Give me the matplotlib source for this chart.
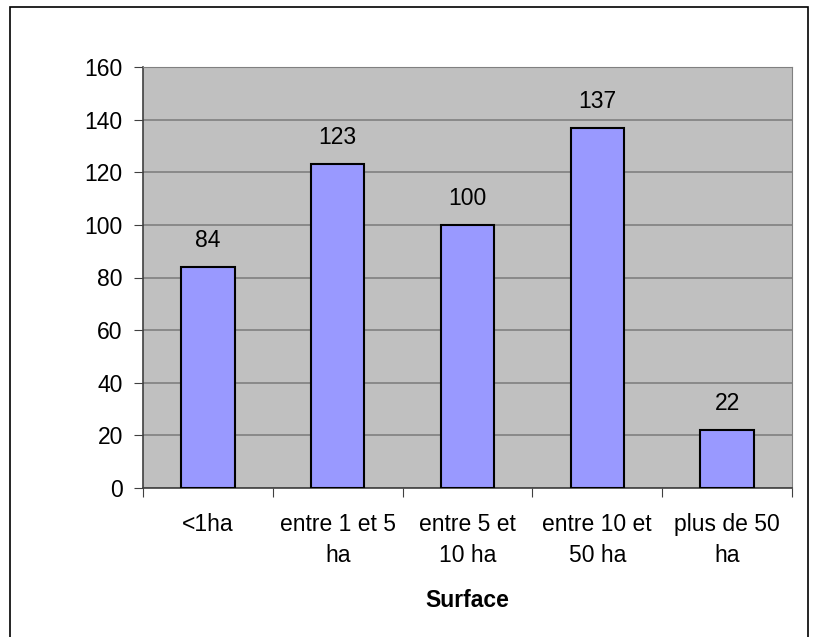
import matplotlib
matplotlib.use("Agg")
import matplotlib.pyplot as plt
from matplotlib.patches import Rectangle

plt.rcParams['font.family'] = ['Liberation Sans', 'DejaVu Sans']

categories = ["<1ha", "entre 1 et 5\nha", "entre 5 et\n10 ha", "entre 10 et\n50 ha", "plus de 50\nha"]
values = [84, 123, 100, 137, 22]
yticks = [0, 20, 40, 60, 80, 100, 120, 140, 160]

fs = 16.5

fig = plt.figure(figsize=(8.16, 6.37), dpi=100)
ax = fig.add_axes([143 / 816, 1 - 488 / 637, (792 - 143) / 816, (488 - 67) / 637])

# outer chart frame (bottom edge cut off like the source image)
fig.patches.append(Rectangle((10 / 816, -5 / 637), 798 / 816, 635 / 637, transform=fig.transFigure,
                             fill=False, edgecolor='black', linewidth=1.2))

x = list(range(len(categories)))
ax.bar(x, values, width=0.41, color='#9999FF', edgecolor='black', linewidth=1.5, zorder=3)
for xi, v in zip(x, values):
    ax.text(xi, v + 7.6, str(v), ha='center', va='baseline', fontsize=fs)

ax.set_facecolor('#C0C0C0')
ax.set_xlim(-0.5, len(categories) - 0.5)
ax.set_ylim(0, 160)
ax.set_yticks(yticks)
ax.yaxis.grid(True, color='#808080', linewidth=1.2, zorder=0)
ax.tick_params(axis='y', labelsize=fs, length=6.5, color='#404040', direction='out', pad=8)

ax.set_xticks([i - 0.5 for i in range(len(categories) + 1)])
ax.set_xticklabels([])
ax.set_xticks(x, minor=True)
ax.set_xticklabels(categories, minor=True, fontsize=fs, linespacing=1.42)
ax.tick_params(axis='x', which='major', length=6.5, color='#404040')
ax.tick_params(axis='x', which='minor', length=0, pad=18)

for s in ['top', 'right']:
    ax.spines[s].set_color('#808080')
for s in ['left', 'bottom']:
    ax.spines[s].set_color('#404040')
    ax.spines[s].set_linewidth(1.2)

ax.set_xlabel("Surface", fontsize=fs, fontweight='bold', labelpad=16)

fig.savefig("out.png", dpi=100)
